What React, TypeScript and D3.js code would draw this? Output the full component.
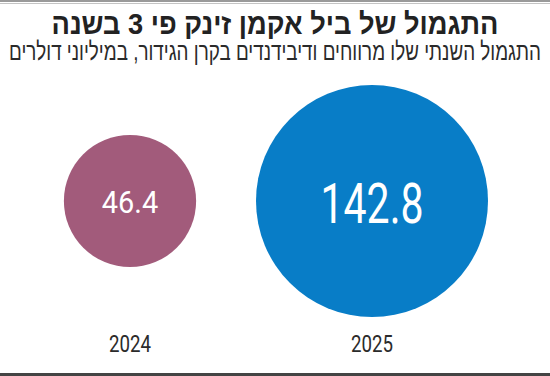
import React from "react";
import * as d3 from "d3";

const years: string[] = ["2024", "2025"];
const values: number[] = [46.4, 142.8];
const valueLabels: string[] = ["46.4", "142.8"];
const colors: string[] = ["#a25b7b", "#087dc7"];
const title = "התגמול של ביל אקמן זינק פי 3 בשנה";
const subtitle = "התגמול השנתי שלו מרווחים ודיבידנדים בקרן הגידור, במיליוני דולרים";

const W = 550;
const H = 376;

export default function App() {
  const x = d3.scalePoint<string>().domain(years).range([130, 372]);
  const r = d3.scaleSqrt().domain([0, d3.max(values) as number]).range([0, 116]);
  const cy = 201;
  const fs = d3.scaleLinear().domain([0, 116]).range([0, 56]);
  const tw = d3.scaleLinear().domain([0, 116]).range([0, 103]);

  return (
    <svg
      width={W}
      height={H}
      style={{ position: "absolute", left: 0, top: 0, background: "#fff" }}
    >
      <rect x={0} y={0} width={W} height={2} fill="#9a9a9a" />
      <rect x={0} y={3} width={W} height={1} fill="#c4c4c4" />
      <text
        x={W / 2}
        y={34}
        textAnchor="middle"
        direction="rtl"
        fontFamily="'Liberation Sans', 'DejaVu Sans', sans-serif"
        fontWeight={700}
        fontSize={29}
        fill="#222"
        textLength={447}
        lengthAdjust="spacingAndGlyphs"
      >
        {title}
      </text>
      <text
        x={W / 2}
        y={60}
        textAnchor="middle"
        direction="rtl"
        fontFamily="'Liberation Sans', 'DejaVu Sans', sans-serif"
        fontSize={25}
        fill="#2a2a2a"
        textLength={532}
        lengthAdjust="spacingAndGlyphs"
      >
        {subtitle}
      </text>
      {years.map((yr, i) => {
        const rad = r(values[i]);
        const cx = x(yr) as number;
        const size = fs(rad);
        const label = valueLabels[i];
        const len = label.length === 5 ? tw(rad) : tw(rad) * 0.96;
        return (
          <g key={yr}>
            <circle cx={cx} cy={cy} r={rad} fill={colors[i]} />
            <text
              x={cx}
              y={cy + size * 0.39}
              textAnchor="middle"
              fontFamily="Roboto, sans-serif"
              fontWeight={400}
              fontSize={size}
              fill="#fff"
              textLength={len}
              lengthAdjust="spacingAndGlyphs"
            >
              {label}
            </text>
            <text
              x={cx}
              y={352}
              textAnchor="middle"
              fontFamily="Roboto, sans-serif"
              fontWeight={400}
              fontSize={23}
              fill="#2b2b2b"
              textLength={42}
              lengthAdjust="spacingAndGlyphs"
            >
              {yr}
            </text>
          </g>
        );
      })}
      <rect x={0} y={373} width={W} height={3} fill="#444" />
    </svg>
  );
}
